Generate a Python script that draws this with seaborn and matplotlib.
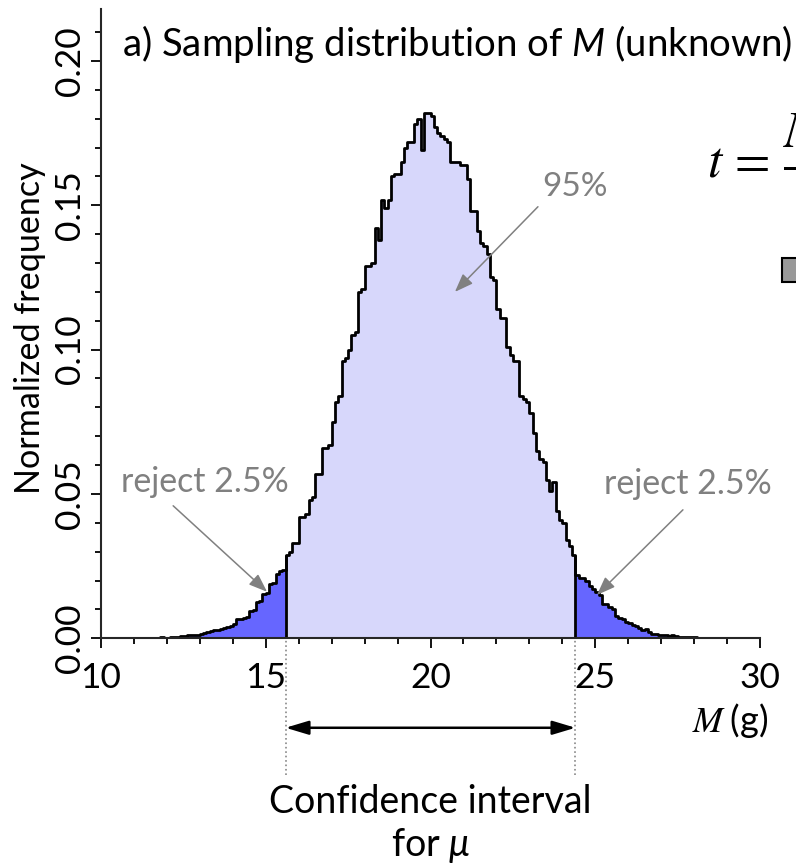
import numpy as np
import pandas as pd
import matplotlib
matplotlib.use("Agg")
import matplotlib.pyplot as plt
import seaborn as sns
from matplotlib.ticker import MultipleLocator, FormatStrFormatter
from matplotlib.patches import Rectangle

# ---------------- data ----------------
m_start = 11.5          # left edge of first bin (g)
bin_w = 0.1             # bin width (g)
ci_low, ci_high = 15.6, 24.4

left_tail_freq = [
    0.0001, 0.0001, 0.0002, 0.0004, 0.0002, 0.0002, 0.0003, 0.0004, 0.0005, 0.0007,
    0.0008, 0.0010, 0.0010, 0.0012, 0.0013, 0.0016, 0.0018, 0.0022, 0.0024, 0.0027,
    0.0030, 0.0033, 0.0036, 0.0040, 0.0044, 0.0050, 0.0066, 0.0068, 0.0072, 0.0075,
    0.0095, 0.0099, 0.0125, 0.0128, 0.0155, 0.0158, 0.0188, 0.0192, 0.0222, 0.0232,
    0.0237,
]
central_freq = [
    0.029, 0.030, 0.033, 0.033,
    0.042, 0.042, 0.043, 0.048, 0.049, 0.057, 0.057, 0.066, 0.066, 0.067,
    0.075, 0.082, 0.084, 0.096, 0.097, 0.100, 0.105, 0.106, 0.120, 0.121,
    0.129, 0.129, 0.130, 0.142, 0.138, 0.152, 0.149, 0.152, 0.160, 0.161,
    0.161, 0.165, 0.170, 0.172, 0.172, 0.178, 0.180, 0.169, 0.182, 0.182,
    0.181, 0.177, 0.175, 0.174, 0.173, 0.172, 0.165, 0.165, 0.165, 0.164,
    0.164, 0.159, 0.148, 0.148, 0.141, 0.137, 0.136, 0.133, 0.125, 0.124,
    0.114, 0.111, 0.111, 0.101, 0.098, 0.096, 0.096, 0.084, 0.083, 0.082,
    0.078, 0.071, 0.065, 0.062, 0.061, 0.055, 0.051, 0.054, 0.044, 0.041,
    0.040, 0.034, 0.032, 0.029,
]
right_tail_freq = [
    0.022, 0.021, 0.021, 0.020, 0.018, 0.017, 0.016, 0.015, 0.012, 0.012,
    0.011, 0.010, 0.0078, 0.0072, 0.0066, 0.0055, 0.0053, 0.0046, 0.0042, 0.0035,
    0.0027, 0.0031, 0.0023, 0.0016, 0.0014, 0.0012, 0.0011, 0.0012, 0.0009, 0.0010,
    0.0008, 0.0006, 0.0006, 0.0005, 0.0003, 0.0003, 0.0003, 0.0002, 0.0002, 0.0001,
    0.0002, 0.0001, 0.0001, 0.0001, 0.0001, 0.0001, 0.0001, 0.0001,
]
x_ticks = [10, 15, 20, 25, 30]
y_ticks = [0.00, 0.05, 0.10, 0.15, 0.20]

# ---------------- style ----------------
sns.set_theme(style="ticks")
plt.rcParams['font.family'] = ['Lato', 'DejaVu Sans']
plt.rcParams['mathtext.fontset'] = 'custom'
plt.rcParams['mathtext.rm'] = 'Lato'
plt.rcParams['mathtext.it'] = 'Lato:italic'
plt.rcParams['axes.linewidth'] = 1.5

light = '#d7d7fb'
dark = '#6666ff'
grey = '#808080'

fig = plt.figure(figsize=(7.96, 8.67), dpi=100)
ax = fig.add_axes([0.1269, 0.2638, 0.8279, 0.7258])

all_freq = np.array(left_tail_freq + central_freq + right_tail_freq)
n = len(all_freq)
edges = np.round(m_start + bin_w * np.arange(n + 1), 3)
centers = (edges[:-1] + edges[1:]) / 2
nl, nc = len(left_tail_freq), len(central_freq)
df = pd.DataFrame({'m': centers, 'freq': all_freq})

for lo, hi, col in [(0, nl, dark), (nl, nl + nc, light), (nl + nc, n, dark)]:
    sns.histplot(data=df.iloc[lo:hi], x='m', weights='freq', bins=list(edges[lo:hi + 1]),
                 element='step', fill=True, color=col, alpha=1, linewidth=0,
                 stat='count', ax=ax)
sns.histplot(data=df, x='m', weights='freq', bins=list(edges), element='step', fill=False,
             color='black', linewidth=2.0, stat='count', ax=ax)

# CI boundary lines inside the histogram
h_low = max(left_tail_freq[-1], central_freq[0])
h_high = max(central_freq[-1], right_tail_freq[0])
ax.vlines([ci_low, ci_high], 0, [h_low, h_high], color='black', lw=2.0)

ax.set_xlim(10, 30)
ax.set_ylim(0, 0.218)
ax.set_xticks(x_ticks)
ax.set_yticks(y_ticks)
ax.xaxis.set_minor_locator(MultipleLocator(1))
ax.yaxis.set_minor_locator(MultipleLocator(0.01))
ax.yaxis.set_major_formatter(FormatStrFormatter('%.2f'))
sns.despine(ax=ax)
ax.tick_params(axis='both', which='major', length=7, width=1.3, color='black',
               labelsize=25.5, labelcolor='black', pad=10)
ax.tick_params(axis='both', which='minor', length=4.5, width=1.3, color='black')
ax.tick_params(axis='y', which='major', labelrotation=90, pad=4)
for lab in ax.get_yticklabels():
    lab.set_va('center')
ax.set_xlabel('')
ax.set_ylabel('Normalized frequency', fontsize=24.6, color='black')
ax.yaxis.set_label_coords(-0.1077, 0.493)
ax.yaxis.label.set_va('center')

# title inside the axes
ax.text(0.032, 0.945, 'a) Sampling distribution of $M$ (unknown)', transform=ax.transAxes,
        fontsize=27.6, ha='left', va='center', color='black')

# x-axis label
ax.text(1.012, -0.13, r'$M\;$(g)', transform=ax.transAxes, fontsize=26,
        ha='right', va='center', color='black', math_fontfamily='stix')

# annotations
ax.text(24.39, 0.1564, '95%', fontsize=24, color=grey, ha='center', va='center')
ax.annotate('', xy=(20.74, 0.120), xytext=(23.26, 0.1495),
            arrowprops=dict(arrowstyle='-|>,head_length=0.8,head_width=0.3', color=grey,
                            lw=1.1, mutation_scale=14, shrinkA=0, shrinkB=0))
ax.text(13.14, 0.0543, 'reject 2.5%', fontsize=24.4, color=grey, ha='center', va='center')
ax.annotate('', xy=(15.04, 0.0161), xytext=(12.19, 0.0459),
            arrowprops=dict(arrowstyle='-|>,head_length=0.8,head_width=0.3', color=grey,
                            lw=1.1, mutation_scale=14, shrinkA=0, shrinkB=0))
ax.text(27.81, 0.0535, 'reject 2.5%', fontsize=24.4, color=grey, ha='center', va='center')
ax.annotate('', xy=(25.05, 0.015), xytext=(27.66, 0.0445),
            arrowprops=dict(arrowstyle='-|>,head_length=0.8,head_width=0.3', color=grey,
                            lw=1.1, mutation_scale=14, shrinkA=0, shrinkB=0))

# confidence interval below the axis
ax.vlines([ci_low, ci_high], -0.0475, 0, color='#888888', lw=1.2, linestyles=':',
          clip_on=False)
ax.annotate('', xy=(ci_high, -0.031), xytext=(ci_low, -0.031), annotation_clip=False,
            arrowprops=dict(arrowstyle='<|-|>,head_length=1.0,head_width=0.3', color='black',
                            lw=1.8, mutation_scale=14, shrinkA=0, shrinkB=0))
ax.text((ci_low + ci_high) / 2, -0.0645, 'Confidence interval\nfor $\\mu$', fontsize=27,
        ha='center', va='center', color='black', linespacing=1.2, clip_on=False)

# partially visible content of the neighbouring panel
fig.text(0.888, 0.7958, r'$t\,=\,\dfrac{M-\mu}{s_M}$', fontsize=37, ha='left',
         va='baseline', color='black', math_fontfamily='stix')
fig.add_artist(Rectangle((0.9824, 0.6747), 0.0302, 0.0277, transform=fig.transFigure,
                         facecolor='#999999', edgecolor='black', lw=1.5))

fig.savefig('out.png', dpi=100)
